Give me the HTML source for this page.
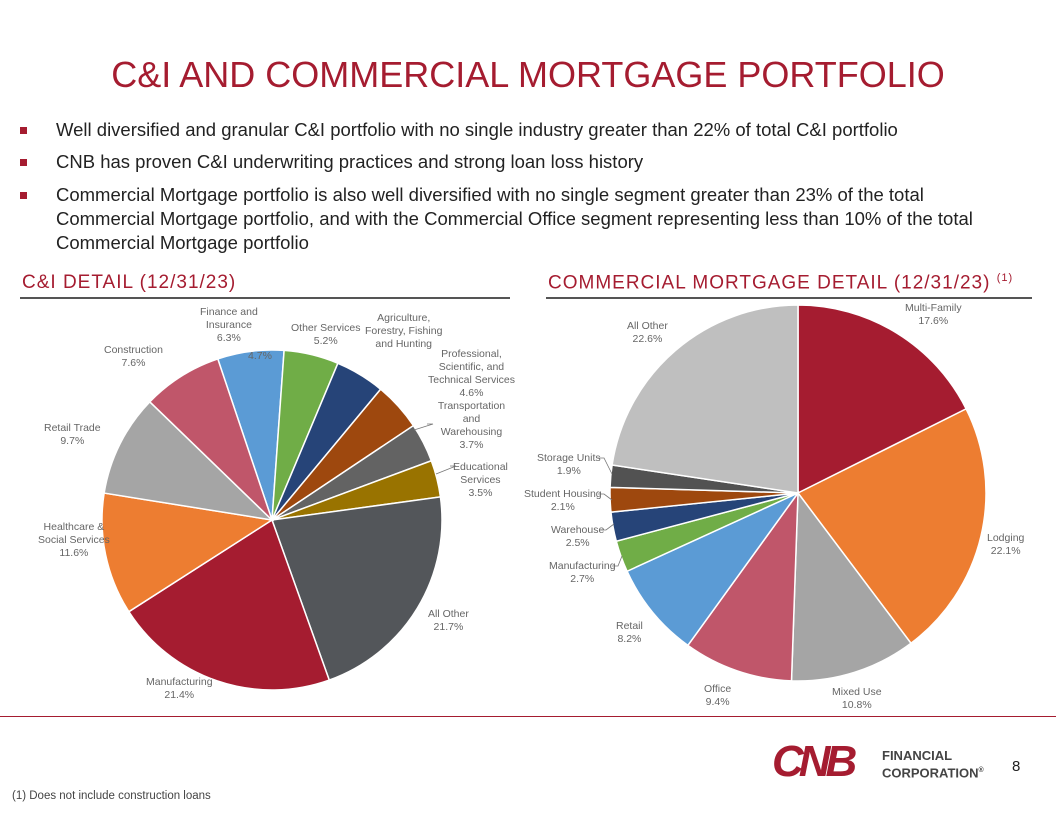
<!DOCTYPE html>
<html><head><meta charset="utf-8">
<style>
body{margin:0;width:1056px;height:816px;background:#fff;font-family:"Liberation Sans",sans-serif;overflow:hidden;position:relative}
.t{position:absolute;}
#title{position:absolute;left:0;width:1056px;top:53px;text-align:center;color:#A51C30;font-size:36px;line-height:44px}
.b{position:absolute;left:20px;font-size:18.5px;color:#222;line-height:24px}
.b span.sq{position:absolute;left:0;top:9px;width:7px;height:7px;background:#A51C30}
.b div{margin-left:36px}
.h{position:absolute;top:272px;color:#A51C30;font-size:19px;letter-spacing:1px}
.rule{position:absolute;height:2px;background:#555;top:297px}
.lbl{position:absolute;font-size:10.5px;color:#666;text-align:center;line-height:13px;white-space:nowrap}
</style></head><body>
<div id="title">C&amp;I AND COMMERCIAL MORTGAGE PORTFOLIO</div>
<div class="b" style="top:118px"><span class="sq"></span><div>Well diversified and granular C&amp;I portfolio with no single industry greater than 22% of total C&amp;I portfolio</div></div>
<div class="b" style="top:150px"><span class="sq"></span><div>CNB has proven C&amp;I underwriting practices and strong loan loss history</div></div>
<div class="b" style="top:183px;width:985px"><span class="sq"></span><div>Commercial Mortgage portfolio is also well diversified with no single segment greater than 23% of the total Commercial Mortgage portfolio, and with the Commercial Office segment representing less than 10% of the total Commercial Mortgage portfolio</div></div>
<div class="h" style="left:22px">C&amp;I DETAIL (12/31/23)</div>
<div class="h" style="left:548px">COMMERCIAL MORTGAGE DETAIL (12/31/23) <sup style="font-size:11px">(1)</sup></div>
<div class="rule" style="left:20px;width:490px"></div>
<div class="rule" style="left:546px;width:486px"></div>
<div style="position:absolute;left:0;top:716px;width:1056px;height:1px;background:#A51C30"></div>

<svg id="pies" width="1056" height="816" style="position:absolute;left:0;top:0"></svg>

<div class="lbl" style="left:200px;top:306px">Finance and<br>Insurance<br>6.3%</div>
<div class="lbl" style="left:291px;top:322px">Other Services<br>5.2%</div>
<div class="lbl" style="left:365px;top:312px">Agriculture,<br>Forestry, Fishing<br>and Hunting</div>
<div class="lbl" style="left:104px;top:344px">Construction<br>7.6%</div>
<div class="lbl" style="left:248px;top:350px">4.7%</div>
<div class="lbl" style="left:428px;top:348px">Professional,<br>Scientific, and<br>Technical Services<br>4.6%<br>Transportation<br>and<br>Warehousing<br>3.7%</div>
<div class="lbl" style="left:453px;top:461px">Educational<br>Services<br>3.5%</div>
<div class="lbl" style="left:44px;top:422px">Retail Trade<br>9.7%</div>
<div class="lbl" style="left:38px;top:521px">Healthcare &amp;<br>Social Services<br>11.6%</div>
<div class="lbl" style="left:428px;top:608px">All Other<br>21.7%</div>
<div class="lbl" style="left:146px;top:676px">Manufacturing<br>21.4%</div>

<div class="lbl" style="left:905px;top:302px">Multi-Family<br>17.6%</div>
<div class="lbl" style="left:627px;top:320px">All Other<br>22.6%</div>
<div class="lbl" style="left:537px;top:452px">Storage Units<br>1.9%</div>
<div class="lbl" style="left:524px;top:488px">Student Housing<br>2.1%</div>
<div class="lbl" style="left:551px;top:524px">Warehouse<br>2.5%</div>
<div class="lbl" style="left:549px;top:560px">Manufacturing<br>2.7%</div>
<div class="lbl" style="left:987px;top:532px">Lodging<br>22.1%</div>
<div class="lbl" style="left:616px;top:620px">Retail<br>8.2%</div>
<div class="lbl" style="left:704px;top:683px">Office<br>9.4%</div>
<div class="lbl" style="left:832px;top:686px">Mixed Use<br>10.8%</div>

<div class="t" style="left:772px;top:742px;width:110px;height:40px;">
<div style="font:900 44px/40px 'Liberation Sans',sans-serif;color:#A51C30;letter-spacing:-5px;font-style:italic">CNB</div></div>
<div class="t" style="left:882px;top:748px;font:bold 13px/15px 'Liberation Sans',sans-serif;color:#444">FINANCIAL<br>CORPORATION<sup style="font-size:7px">®</sup></div>
<div class="t" style="left:1012px;top:758px;font-size:15px;color:#222">8</div>
<div class="t" style="left:12px;top:790px;font-size:11.5px;color:#444">(1) Does not include construction loans</div>

<script>
const ciCategories=["Finance and Insurance","Other Services","Agriculture","Professional","Transportation","Educational","All Other","Manufacturing","Healthcare","Retail Trade","Construction"];
const ciValues=[6.3,5.2,4.7,4.6,3.7,3.5,21.7,21.4,11.6,9.7,7.6];
const ciColors=["#5B9BD5","#70AD47","#264478","#9E480E","#636363","#997300","#53565A","#A51C30","#ED7D31","#A5A5A5","#C0566A"];
const cmCategories=["Multi-Family","Lodging","Mixed Use","Office","Retail","Manufacturing","Warehouse","Student Housing","Storage Units","All Other"];
const cmValues=[17.6,22.1,10.8,9.4,8.2,2.7,2.5,2.1,1.9,22.6];
const cmColors=["#A51C30","#ED7D31","#A5A5A5","#C0566A","#5B9BD5","#70AD47","#264478","#9E480E","#525252","#BFBFBF"];
const svg=document.getElementById('pies');
const NS="http://www.w3.org/2000/svg";
function pie(cx,cy,r,startDeg,vals,cols,cats,prefix){
  const total=vals.reduce((a,b)=>a+b,0);
  let a=startDeg*Math.PI/180;
  vals.forEach((v,i)=>{
    const da=v/total*2*Math.PI, b=a+da;
    const x1=cx+r*Math.sin(a),y1=cy-r*Math.cos(a),x2=cx+r*Math.sin(b),y2=cy-r*Math.cos(b);
    const p=document.createElementNS(NS,'path');
    p.setAttribute('d',`M${cx},${cy}L${x1},${y1}A${r},${r} 0 ${da>Math.PI?1:0} 1 ${x2},${y2}Z`);
    p.setAttribute('fill',cols[i]);p.setAttribute('stroke','#fff');p.setAttribute('stroke-width','1.5');
    
    
    svg.appendChild(p);a=b;
  });
}
pie(272,520,170,-18.6,ciValues,ciColors,ciCategories,'ci');
pie(798,493,188,0,cmValues,cmColors,cmCategories,'cm');
[[598,458,612,474],[598,494,612,500],[600,530,614,524],[612,566,622,556],[427,424,414,430],[450,466,436,474]].forEach(l=>{
  const ln=document.createElementNS(NS,'polyline');
  ln.setAttribute('points',`${l[0]},${l[1]} ${l[0]+6},${l[1]} ${l[2]},${l[3]}`);
  ln.setAttribute('fill','none');ln.setAttribute('stroke','#777');ln.setAttribute('stroke-width','0.8');
  
  
  svg.appendChild(ln);
});
</script>
</body></html>
